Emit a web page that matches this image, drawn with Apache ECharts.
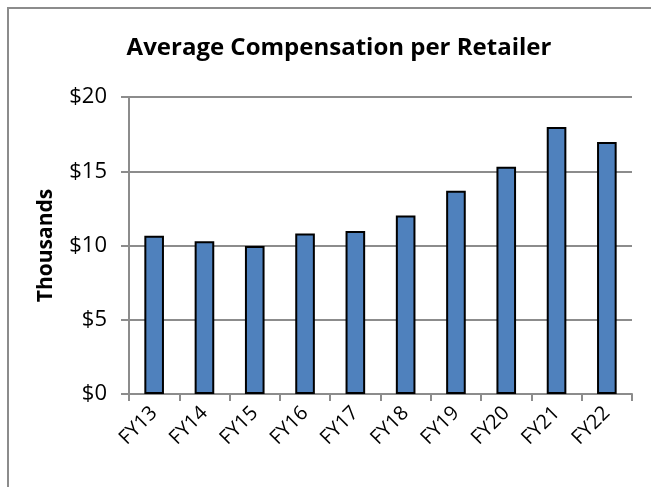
<!DOCTYPE html>
<html>
<head>
<meta charset="utf-8">
<script src="https://cdn.jsdelivr.net/npm/echarts@6/dist/echarts.min.js"></script>
<style>html,body{margin:0;padding:0;background:#fff;}#c{width:651px;height:487px;}</style>
</head>
<body>
<div id="c"></div>
<script>
const categories = ['FY13','FY14','FY15','FY16','FY17','FY18','FY19','FY20','FY21','FY22'];
const values = [10.65, 10.29, 9.96, 10.81, 10.97, 12.02, 13.69, 15.31, 17.98, 16.97];
const yTicks = [0, 5, 10, 15, 20];
const titleText = 'Average Compensation per Retailer';
const yName = 'Thousands';

const chart = echarts.init(document.getElementById('c'), null, {renderer: 'canvas'});
const font = 'Open Sans, Liberation Sans, sans-serif';
chart.setOption({
  animation: false,
  backgroundColor: '#fff',
  title: {
    text: titleText, left: 334, top: 31, textAlign: 'center',
    textStyle: {fontFamily: font, fontSize: 24, fontWeight: 'bold', color: '#000'}
  },
  graphic: [{
    type: 'rect', shape: {x: 8, y: 8, width: 700, height: 500},
    style: {fill: 'none', stroke: '#8c8c8c', lineWidth: 2}, silent: true, z: -1
  }],
  grid: {left: 129, right: 19, top: 97, bottom: 93, containLabel: false},
  xAxis: {
    type: 'category', data: categories,
    axisLine: {lineStyle: {color: '#8c8c8c', width: 2}},
    axisTick: {show: true, alignWithLabel: false, length: 7, lineStyle: {color: '#8c8c8c', width: 2}},
    axisLabel: {rotate: 45, fontFamily: font, fontSize: 20, color: '#000', margin: 16, interval: 0}
  },
  yAxis: {
    type: 'value', min: yTicks[0], max: yTicks[yTicks.length - 1], interval: 5,
    name: yName, nameLocation: 'middle', nameGap: 72,
    nameTextStyle: {fontFamily: font, fontSize: 21, fontWeight: 'bold', color: '#000'},
    axisLine: {show: true, lineStyle: {color: '#8c8c8c', width: 2}},
    axisTick: {show: true, length: 8, lineStyle: {color: '#8c8c8c', width: 2}},
    splitLine: {lineStyle: {color: '#8c8c8c', width: 2}},
    axisLabel: {formatter: v => '$' + v, fontFamily: font, fontSize: 22, color: '#000', margin: 22}
  },
  series: [{
    type: 'bar', data: values, barWidth: '39%',
    itemStyle: {color: '#4F81BD', borderColor: '#000', borderWidth: 2}
  }]
});
</script>
</body>
</html>
